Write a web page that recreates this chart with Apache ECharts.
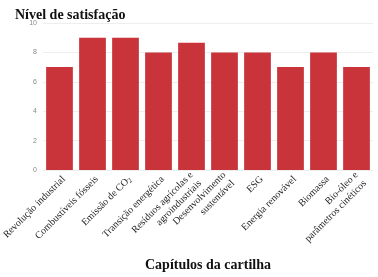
<!DOCTYPE html>
<html>
<head>
<meta charset="utf-8">
<script src="https://cdn.jsdelivr.net/npm/echarts@6/dist/echarts.min.js"></script>
<style>
  html, body { margin: 0; padding: 0; background: #fff; }
  #chart { width: 378px; height: 277px; }
</style>
</head>
<body>
<div id="chart"></div>
<script>
// capítulos (eixo x)
const capitulos = [
  'Revolução industrial',
  'Combustíveis fósseis',
  'Emissão de CO₂',
  'Transição energética',
  'Resíduos agrícolas e\nagroindustriais',
  'Desenvolvimento\nsustentável',
  'ESG',
  'Energia renovável',
  'Biomassa',
  'Bio-óleo e\nparâmetros cinéticos'
];
const satisfacao = [7, 9, 9, 8, 8.65, 8, 8, 7, 8, 7];

const chart = echarts.init(document.getElementById('chart'));
const option = {
  animation: false,
  title: {
    text: 'Nível de satisfação',
    left: 10, top: 3,
    textStyle: { fontFamily: 'Liberation Serif', fontWeight: 'bold', fontSize: 14, color: '#111' }
  },
  grid: { left: 43, right: 5, top: 23, bottom: 107, outerBoundsMode: 'none' },
  xAxis: {
    type: 'category',
    data: capitulos,
    name: 'Capítulos da cartilha',
    nameLocation: 'middle',
    nameGap: 88,
    nameTextStyle: { fontFamily: 'Liberation Serif', fontWeight: 'bold', fontSize: 14, color: '#111' },
    axisLine: { show: false },
    axisTick: { show: false },
    axisLabel: {
      rotate: 45, interval: 0, margin: 12,
      fontFamily: 'Liberation Serif', fontSize: 10, color: '#222', lineHeight: 12,
      align: 'right',
      padding: [0, -6, 0, 0],
      formatter: v => v.replace('₂', '{sub|2}'),
      rich: {
        sub: { fontFamily: 'Liberation Serif', fontSize: 7, color: '#222', verticalAlign: 'bottom', padding: [4, 0, 0, 0] }
      }
    }
  },
  yAxis: {
    type: 'value',
    min: 0, max: 10, interval: 2,
    axisLabel: { fontSize: 7, color: '#888', margin: 6 },
    splitLine: { lineStyle: { color: '#eeeeee' } }
  },
  series: [{
    type: 'bar',
    data: satisfacao,
    barCategoryGap: '19%',
    itemStyle: { color: '#c9333a' }
  }]
};
chart.setOption(option);
</script>
</body>
</html>
